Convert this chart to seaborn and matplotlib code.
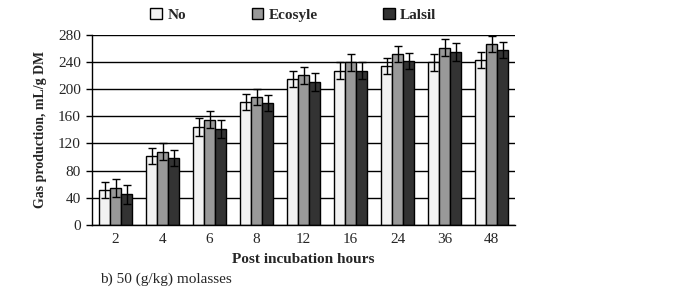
import numpy as np
import pandas as pd
import matplotlib
matplotlib.use("Agg")
import matplotlib.pyplot as plt
import seaborn as sns

hours = ["2", "4", "6", "8", "12", "16", "24", "36", "48"]
treatments = ["No", "Ecosyle", "Lalsil"]
no_vals = [51, 101, 144, 181, 215, 227, 234, 239, 243]
eco_vals = [54, 108, 155, 188, 220, 239, 251, 261, 266]
lal_vals = [45, 99, 141, 179, 210, 227, 241, 254, 257]
no_err = [12, 12, 13, 12, 12, 12, 12, 12, 12]
eco_err = [13, 12, 13, 12, 13, 12, 12, 13, 12]
lal_err = [14, 12, 13, 12, 13, 12, 12, 13, 12]
colors = ["#f2f2f2", "#999999", "#333333"]

sns.set_style("white")
plt.rcParams["font.family"] = ["Liberation Serif", "DejaVu Serif"]

df = pd.DataFrame({
    "hour": hours * 3,
    "treatment": sum([[t] * len(hours) for t in treatments], []),
    "value": no_vals + eco_vals + lal_vals,
    "err": no_err + eco_err + lal_err,
})

fig = plt.figure(figsize=(6.87, 2.92), dpi=100)
ax = fig.add_axes([0.134, 0.2295, 0.616, 0.652])
ax.set_axisbelow(True)
ax.yaxis.grid(True, color="black", linewidth=1.0)
sns.barplot(data=df, x="hour", y="value", hue="treatment", order=hours,
            hue_order=treatments, palette=colors, width=0.7, errorbar=None,
            edgecolor="black", linewidth=1.0, ax=ax, legend=True)

# error bars at each bar centre
for i, t in enumerate(treatments):
    cont = ax.containers[i]
    sub = df[df.treatment == t].set_index("hour").loc[hours]
    xs = [p.get_x() + p.get_width() / 2 for p in cont.patches]
    ax.errorbar(xs, sub["value"].values, yerr=sub["err"].values, fmt="none",
                ecolor="black", elinewidth=1.0, capsize=3, capthick=1.0, zorder=5)

ax.set_ylim(0, 280)
ax.set_yticks(np.arange(0, 281, 40))
ax.set_xlim(-0.5, len(hours) - 0.5)
ax.set_xticks(np.arange(-0.5, len(hours), 1.0), minor=True)
ax.tick_params(axis="x", which="major", length=0, labelsize=11, pad=6)
ax.tick_params(axis="x", which="minor", length=4, width=1, direction="out", color="black")
ax.tick_params(axis="y", length=4, width=1, direction="out", color="black", labelsize=11,
               left=True, pad=4)
for s in ["top", "right"]:
    ax.spines[s].set_visible(False)
for s in ["left", "bottom"]:
    ax.spines[s].set_color("black")
    ax.spines[s].set_linewidth(1.0)

ax.set_xlabel("Post incubation hours", fontsize=11, fontweight="bold", labelpad=5)
ax.set_ylabel("Gas production, mL/g DM", fontsize=10, fontweight="bold", labelpad=8)

handles, labels = ax.get_legend_handles_labels()
ax.get_legend().remove()
fig.legend(handles, labels, loc="upper center", bbox_to_anchor=(0.427, 1.0), ncol=3,
           frameon=False, prop={"weight": "bold", "size": 11}, handlelength=0.75,
           handleheight=0.75, handletextpad=0.35, columnspacing=4.3, borderaxespad=0.1)

fig.text(0.145, 0.045, "b) 50 (g/kg) molasses", fontsize=11, ha="left", va="center")

fig.savefig("out.png", dpi=100)
